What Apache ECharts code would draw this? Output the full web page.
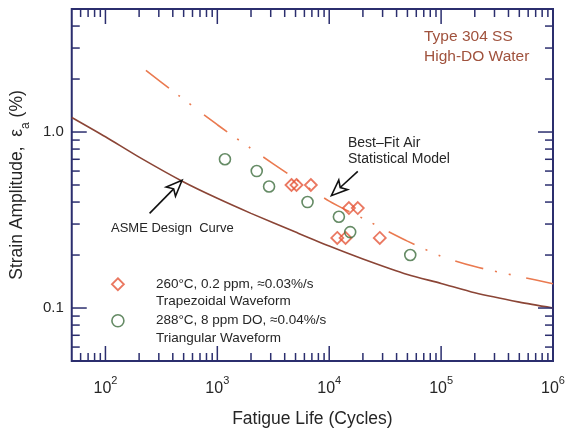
<!DOCTYPE html>
<html><head><meta charset="utf-8">
<script src="https://cdn.jsdelivr.net/npm/echarts@6/dist/echarts.min.js"></script>
<style>html,body{margin:0;padding:0;background:#fff}#c{width:569px;height:433px}</style>
</head><body><div id="c"></div>
<script>
const FONT = '"Liberation Sans", Arial, Helvetica, sans-serif';
const AXIS = '#2b2e6e';
const TXT = '#262626';

// 260°C, 0.2 ppm (diamonds)
const trapCycles = [4600, 5100, 6850, 15000, 18000, 11800, 14000, 28300];
const trapStrain = [0.50, 0.50, 0.50, 0.37, 0.37, 0.25, 0.25, 0.25];
// 288°C, 8 ppm DO (circles)
const triCycles = [1170, 2250, 2900, 6400, 12200, 15400, 53000];
const triStrain = [0.70, 0.60, 0.49, 0.40, 0.33, 0.27, 0.20];
// ASME design curve
const asmeCycles = [50, 100, 200, 500, 1000, 2000, 5000, 10000, 20000, 50000, 100000, 200000, 500000, 1000000];
const asmeStrain = [1.21, 0.94, 0.72, 0.52, 0.42, 0.345, 0.27, 0.225, 0.19, 0.155, 0.138, 0.122, 0.108, 0.100];
// Best-fit air statistical model
const airCycles = [230, 400, 1000, 2000, 5000, 10000, 20000, 50000, 100000, 200000, 500000, 1000000];
const airStrain = [2.24, 1.71, 1.10, 0.806, 0.541, 0.405, 0.323, 0.240, 0.197, 0.172, 0.151, 0.1375];

// tick positions
const xMajorTicks = [100, 1000, 10000, 100000];
const xMinorTicks = [60, 70, 80, 90,
  200, 300, 400, 500, 600, 700, 800, 900,
  2000, 3000, 4000, 5000, 6000, 7000, 8000, 9000,
  20000, 30000, 40000, 50000, 60000, 70000, 80000, 90000,
  200000, 300000, 400000, 500000, 600000, 700000, 800000, 900000];
const yMajorTicks = [0.1, 1];
const yMinorTicks = [0.06, 0.07, 0.08, 0.09, 0.2, 0.3, 0.4, 0.5, 0.6, 0.7, 0.8, 0.9, 2, 3, 4];
const yTickLabels = {'0.1': '0.1', '1': '1.0'};

// legend texts
const trapName = '260°C, 0.2 ppm, ≈0.03%/s';
const trapLine2 = 'Trapezoidal Waveform';
const triName = '288°C, 8 ppm DO, ≈0.04%/s';
const triLine2 = 'Triangular Waveform';

// annotation arrows (tail -> tip, in data units)
const arrowTails = [[248, 0.345], [18000, 0.598]];
const arrowTips = [[484, 0.532], [10460, 0.435]];

const zip = (a, b) => a.map((v, i) => [v, b[i]]);

function tickSeries(values, isX, len) {
  return {
    type: 'custom', silent: true, clip: false, z: 6,
    data: values.map(v => isX ? [v, 1] : [1000, v]),
    renderItem: (params, api) => {
      const cs = params.coordSys;
      const p = api.coord([api.value(0), api.value(1)]);
      const style = {stroke: AXIS, lineWidth: 1.5};
      if (isX) {
        const yb = cs.y + cs.height, yt = cs.y;
        return {type: 'group', children: [
          {type: 'line', shape: {x1: p[0], y1: yb, x2: p[0], y2: yb - len}, style},
          {type: 'line', shape: {x1: p[0], y1: yt, x2: p[0], y2: yt + len}, style}
        ]};
      }
      const xl = cs.x, xr = cs.x + cs.width;
      return {type: 'group', children: [
        {type: 'line', shape: {x1: xl, y1: p[1], x2: xl + len, y2: p[1]}, style},
        {type: 'line', shape: {x1: xr, y1: p[1], x2: xr - len, y2: p[1]}, style}
      ]};
    }
  };
}

const chart = echarts.init(document.getElementById('c'), null, {renderer: 'canvas'});
chart.setOption({
  animation: false,
  backgroundColor: '#fff',
  textStyle: {fontFamily: FONT},
  title: {
    text: 'Type 304 SS\nHigh-DO Water',
    left: 424, top: 27, padding: 0,
    textStyle: {fontFamily: FONT, fontSize: 15.5, fontWeight: 'normal', color: '#a0523d', lineHeight: 20}
  },
  grid: {left: 71, top: 9, width: 482, height: 355, show: true, borderColor: AXIS, borderWidth: 2, backgroundColor: 'transparent'},
  xAxis: {
    type: 'log', logBase: 10, min: 50, max: 1000000,
    axisLine: {show: false}, axisTick: {show: false}, splitLine: {show: false},
    axisLabel: {
      margin: 14, color: TXT, fontFamily: FONT,
      formatter: v => {
        const e = Math.log10(v), r = Math.round(e);
        return Math.abs(e - r) < 1e-6 && v > 60 ? '{b|10}{s|' + r + '}' : '';
      },
      rich: {
        b: {fontSize: 16, lineHeight: 22, verticalAlign: 'bottom', color: TXT, fontFamily: FONT},
        s: {fontSize: 11, lineHeight: 14, verticalAlign: 'top', color: TXT, fontFamily: FONT}
      }
    },
    name: 'Fatigue Life (Cycles)', nameLocation: 'middle', nameGap: 49,
    nameTextStyle: {fontSize: 17.5, color: TXT, fontFamily: FONT}
  },
  yAxis: {
    type: 'log', logBase: 10, min: 0.05, max: 5,
    axisLine: {show: false}, axisTick: {show: false}, splitLine: {show: false},
    axisLabel: {
      margin: 8, color: TXT, fontSize: 15, fontFamily: FONT,
      formatter: v => {
        for (const k in yTickLabels) { if (Math.abs(v - Number(k)) < 1e-9) return yTickLabels[k]; }
        return '';
      }
    },
    name: '{n|Strain Amplitude,  ε}{s|a}{n| (%)}', nameLocation: 'middle', nameGap: 37,
    nameTextStyle: {
      color: TXT, fontFamily: FONT,
      rich: {
        n: {fontSize: 17.5, lineHeight: 24, verticalAlign: 'top', color: TXT, fontFamily: FONT},
        s: {fontSize: 12, lineHeight: 24, verticalAlign: 'bottom', color: TXT, fontFamily: FONT}
      }
    }
  },
  legend: {
    left: 111, top: 258, orient: 'vertical', padding: 0, itemGap: -16,
    itemWidth: 12, itemHeight: 12, selectedMode: false,
    data: [
      {name: trapName, icon: 'diamond', itemStyle: {color: 'rgba(255,255,255,0)', borderColor: '#e5563a', borderWidth: 1.8}},
      {name: triName, icon: 'circle', itemStyle: {color: 'rgba(255,255,255,0)', borderColor: '#3f6e3f', borderWidth: 1.6}}
    ],
    formatter: n => ' \n' + n + '\n' + (n === trapName ? trapLine2 : triLine2),
    textStyle: {fontSize: 13.5, lineHeight: 17.5, padding: [0, 0, 0, 27], color: TXT, fontFamily: FONT}
  },
  graphic: [
    {type: 'text', x: 348, y: 135, z: 10, style: {text: 'Best\u2013Fit Air\nStatistical Model', font: '14px ' + FONT, fill: TXT, lineHeight: 16}},
    {type: 'text', x: 111, y: 220, z: 10, style: {text: 'ASME Design  Curve', font: '13px ' + FONT, fill: TXT, lineHeight: 16}}
  ],
  series: [
    {
      type: 'line', name: 'ASME Design Curve', data: zip(asmeCycles, asmeStrain),
      showSymbol: false, symbol: 'none', smooth: 0.25, z: 3, silent: true,
      lineStyle: {color: '#8b4536', width: 1.6}
    },
    {
      type: 'line', name: 'Best-Fit Air Statistical Model', data: zip(airCycles, airStrain),
      showSymbol: false, symbol: 'none', smooth: 0.25, z: 3, silent: true,
      lineStyle: {color: '#ea7a50', width: 1.6, type: [29, 12, 2, 12, 2, 16]}
    },
    {
      type: 'scatter', name: trapName, data: zip(trapCycles, trapStrain),
      symbol: 'diamond', symbolSize: 12, z: 4,
      itemStyle: {color: 'rgba(255,255,255,0)', borderColor: '#e5563a', borderWidth: 1.8}
    },
    {
      type: 'scatter', name: triName, data: zip(triCycles, triStrain),
      symbol: 'circle', symbolSize: 11, z: 4,
      itemStyle: {color: 'rgba(255,255,255,0)', borderColor: '#3f6e3f', borderWidth: 1.6}
    },
    tickSeries(xMajorTicks, true, 15),
    tickSeries(xMinorTicks, true, 8),
    tickSeries(yMajorTicks, false, 15),
    tickSeries(yMinorTicks, false, 8),
    {
      type: 'custom', silent: true, clip: false, z: 7,
      data: arrowTails.map((t, i) => [t[0], t[1], arrowTips[i][0], arrowTips[i][1]]),
      encode: {x: [0, 2], y: [1, 3]},
      renderItem: (params, api) => {
        const a = api.coord([api.value(0), api.value(1)]);
        const b = api.coord([api.value(2), api.value(3)]);
        const dx = b[0] - a[0], dy = b[1] - a[1];
        const L = Math.hypot(dx, dy), ux = dx / L, uy = dy / L;
        const px = -uy, py = ux;
        const hl = 16, hw = 6.5, notch = 4;
        const bx = b[0] - ux * hl, by = b[1] - uy * hl;
        const nx = bx + ux * notch, ny = by + uy * notch;
        return {type: 'group', children: [
          {type: 'line', shape: {x1: a[0], y1: a[1], x2: nx, y2: ny}, style: {stroke: '#111', lineWidth: 1.6}},
          {type: 'polygon', shape: {points: [[b[0], b[1]], [bx + px * hw, by + py * hw], [nx, ny], [bx - px * hw, by - py * hw]]},
            style: {fill: '#fff', stroke: '#111', lineWidth: 1.6}}
        ]};
      }
    }
  ]
});
</script>
</body></html>
